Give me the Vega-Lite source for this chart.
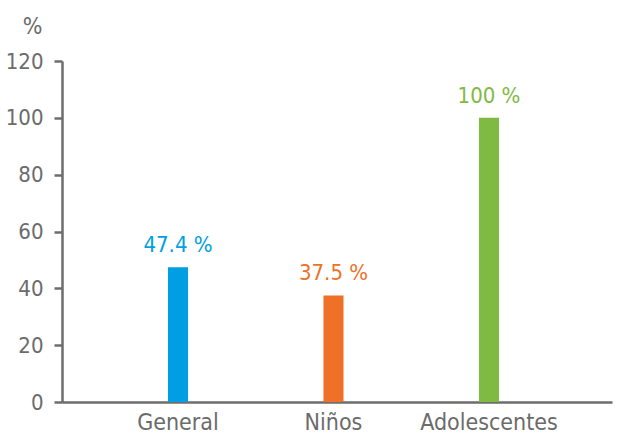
{
  "$schema": "https://vega.github.io/schema/vega-lite/v6.json",
  "autosize": "none",
  "width": 550,
  "height": 341,
  "padding": {"left": 62, "top": 61, "right": 5, "bottom": 32},
  "background": "white",
  "config": {
    "view": {"stroke": null},
    "font": "Liberation Sans Narrow, DejaVu Sans Condensed, sans-serif"
  },
  "data": {
    "values": [
      {"grupo": "General", "valor": 47.4},
      {"grupo": "Niños", "valor": 37.5},
      {"grupo": "Adolescentes", "valor": 100}
    ]
  },
  "transform": [{"calculate": "datum.valor + ' %'", "as": "etiqueta"}],
  "encoding": {
    "x": {
      "field": "grupo",
      "type": "nominal",
      "sort": null,
      "scale": {"paddingInner": 0.871, "paddingOuter": 0.704, "align": 0.484},
      "axis": {
        "title": null,
        "labelAngle": 0,
        "labelFontSize": 23,
        "labelColor": "#6b6b6b",
        "labelPadding": 9,
        "ticks": false,
        "domainColor": "#6d6d6d",
        "domainWidth": 2.5,
        "grid": false
      }
    },
    "y": {
      "field": "valor",
      "type": "quantitative",
      "scale": {"domain": [0, 120], "nice": false},
      "axis": {
        "values": [0, 20, 40, 60, 80, 100, 120],
        "title": "%",
        "titleAngle": 0,
        "titleAlign": "right",
        "titleBaseline": "alphabetic",
        "titleX": -20,
        "titleY": -28,
        "titleFontSize": 23,
        "titleFontWeight": "normal",
        "titleColor": "#6b6b6b",
        "labelFontSize": 22,
        "labelColor": "#6b6b6b",
        "labelPadding": 11,
        "tickSize": 8,
        "tickWidth": 2.5,
        "tickColor": "#6d6d6d",
        "domainColor": "#6d6d6d",
        "domainWidth": 2.5,
        "grid": false
      }
    },
    "color": {
      "field": "grupo",
      "type": "nominal",
      "scale": {
        "domain": ["General", "Niños", "Adolescentes"],
        "range": ["#009FE3", "#EE7127", "#7FBA42"]
      },
      "legend": null
    }
  },
  "layer": [
    {"mark": {"type": "bar"}},
    {
      "mark": {"type": "text", "dy": -10, "baseline": "bottom", "fontSize": 22},
      "encoding": {"text": {"field": "etiqueta"}}
    }
  ]
}
